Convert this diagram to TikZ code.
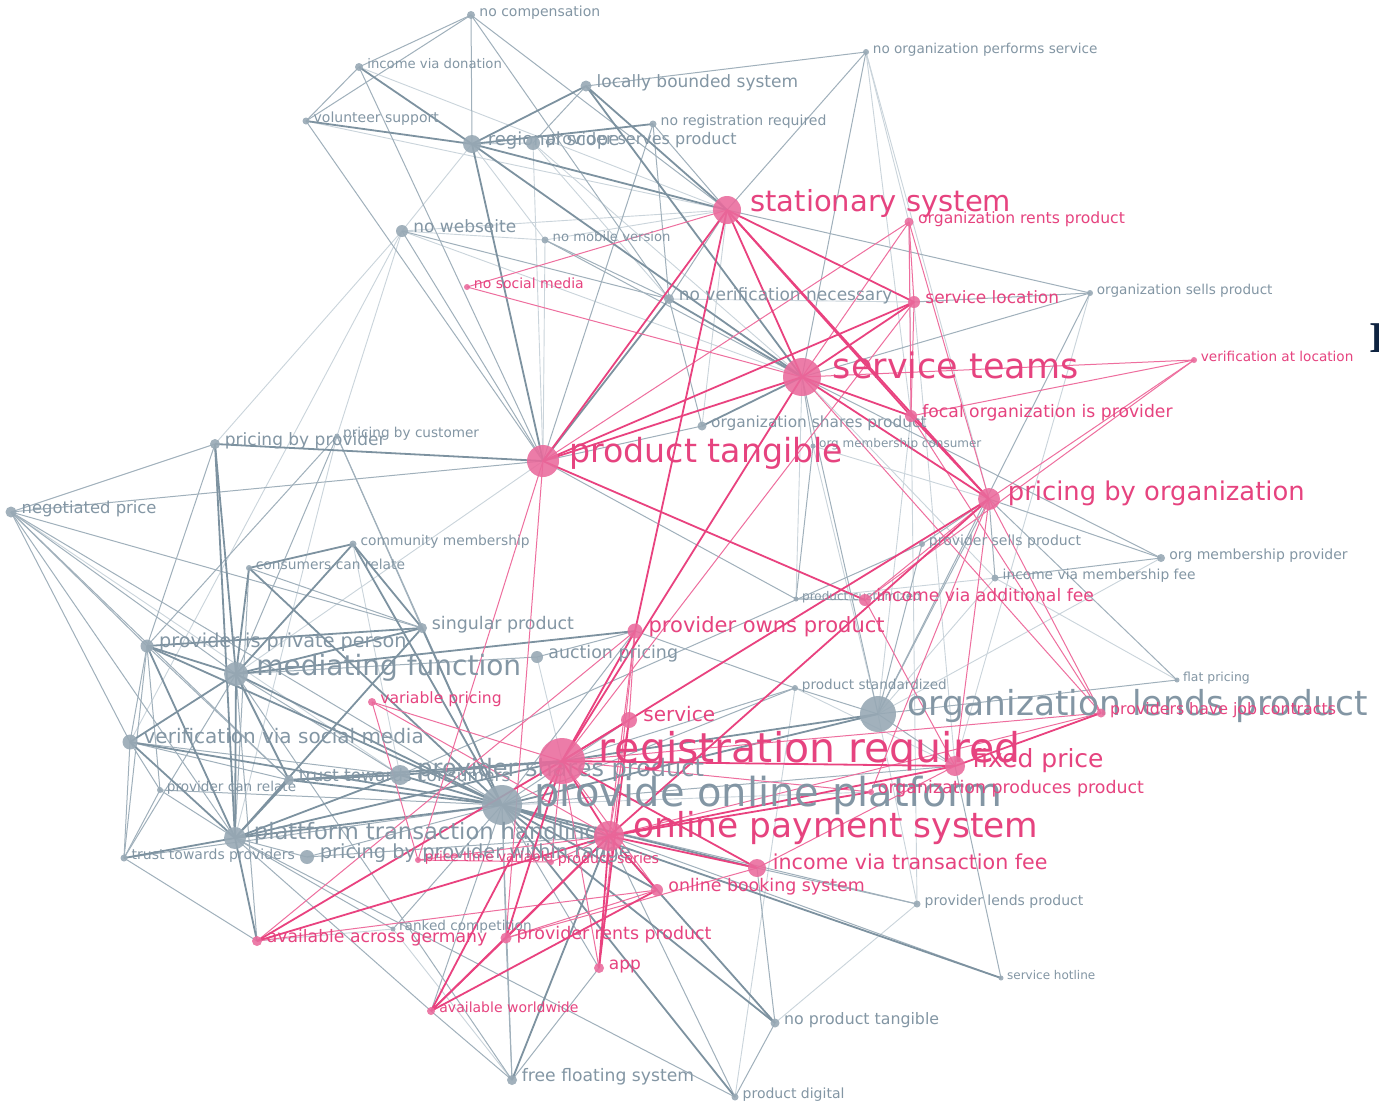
\documentclass[tikz,border=0pt]{standalone}
\usepackage{fontspec}
\setmainfont{DejaVu Sans}
\newfontfamily\glyphserif{Liberation Serif}

\definecolor{gdot}{HTML}{98A9B5}
\definecolor{glab}{HTML}{8396A4}
\definecolor{gline}{HTML}{7D92A0}
\definecolor{gthin}{HTML}{A0B0BB}
\definecolor{glight}{HTML}{CAD4DB}
\definecolor{pdot}{HTML}{EA6A9C}
\definecolor{plab}{HTML}{E6437F}
\definecolor{pline}{HTML}{E9427F}
\definecolor{pthin}{HTML}{EE6E9E}
\definecolor{ink}{HTML}{0E2340}

\pgfdeclarelayer{paper}
\pgfdeclarelayer{edges}
\pgfsetlayers{paper,edges,main}

\tikzset{
  gdotst/.style={circle, fill=gdot, fill opacity=0.9, inner sep=0, draw=none},
  pdotst/.style={circle, fill=pdot, fill opacity=0.88, inner sep=0, draw=none},
  glabst/.style={text=glab, inner sep=0},
  plabst/.style={text=plab, inner sep=0},
  gedge/.style={draw=gline, line width=0.9pt},
  gmid/.style={draw=gthin, line width=0.5pt},
  glite/.style={draw=glight, line width=0.45pt},
  pedge/.style={draw=pline, line width=0.9pt},
  pmid/.style={draw=pthin, line width=0.5pt},
}

% kind (g/p), name, x, y, radius (px), font size (pt), label
\newcommand{\vtx}[7]{%
  \node[#1dotst, minimum size=#5pt] (#2) at (#3,#4) {};
  \node[#1labst, anchor=base west, font=\fontsize{#6}{#6}\selectfont] (#2-t) at ({#3+1.5*#5+2},{#4+1}) {#7};
}

\begin{document}
\begin{tikzpicture}[x=0.5pt, y=-0.5pt]
\begin{pgfonlayer}{paper}
\fill[white] (0,0) rectangle (1379,1104);
\end{pgfonlayer}
\useasboundingbox (0,0) rectangle (1379,1104);

% ---------- grey vertices ----------
\vtx{g}{nocomp}{471}{15}{4}{7}{no compensation}
\vtx{g}{incdon}{359}{67}{4}{6.6}{income via donation}
\vtx{g}{volsup}{306}{121}{3.5}{7}{volunteer support}
\vtx{g}{locbnd}{586}{86}{5.5}{8.5}{locally bounded system}
\vtx{g}{noreg}{653}{124}{3.5}{7}{no registration required}
\vtx{g}{regscope}{472}{144}{9}{9}{regional scope}
\vtx{g}{provserv}{533}{143}{7}{8}{provider serves product}
\vtx{g}{noweb}{402}{231}{6}{8.5}{no webseite}
\vtx{g}{nomob}{545}{240}{3.5}{6.6}{no mobile version}
\vtx{g}{noverif}{669}{299}{5}{8.5}{no verification necessary}
\vtx{g}{noorgperf}{866}{52}{3}{6.8}{no organization performs service}
\vtx{g}{orgsells}{1090}{293}{3}{6.8}{organization sells product}
\vtx{g}{orgshares}{702}{426}{4.5}{7.7}{organization shares product}
\vtx{g}{orgmemcons}{813}{446}{2.5}{6}{org membership consumer}
\vtx{g}{pricprov}{215}{444}{5}{8.5}{pricing by provider}
\vtx{g}{priccust}{337}{436}{2.5}{6.8}{pricing by customer}
\vtx{g}{negprice}{11}{512}{5.5}{8.2}{negotiated price}
\vtx{g}{commem}{353}{544}{3.5}{6.9}{community membership}
\vtx{g}{conrel}{249}{568}{3}{6.9}{consumers can relate}
\vtx{g}{singprod}{422}{628}{5}{8.7}{singular product}
\vtx{g}{privperson}{147}{646}{6.5}{9.6}{provider is private person}
\vtx{g}{mediating}{236}{674}{12}{14}{mediating function}
\vtx{g}{auction}{537}{657}{6}{8.7}{auction pricing}
\vtx{g}{verifsoc}{130}{742}{7.5}{10}{verification via social media}
\vtx{g}{provrelate}{160}{790}{3}{6.8}{provider can relate}
\vtx{g}{trustcons}{289}{780}{5}{8.5}{trust towards consumers}
\vtx{g}{provshares}{400}{775}{10}{12}{provider shares product}
\vtx{g}{pop}{502}{805}{20}{20}{provide online platform}
\vtx{g}{ptrans}{235}{838}{11}{11.3}{plattform transaction handling}
\vtx{g}{trustprov}{124}{858}{3.5}{7}{trust towards providers}
\vtx{g}{pricerange}{307}{857}{7}{9.7}{pricing by provider within range}
\vtx{g}{ranked}{393}{929}{2.5}{6.8}{ranked competition}
\vtx{g}{freefloat}{512}{1080}{5}{8.6}{free floating system}
\vtx{g}{proddig}{735}{1097}{3.5}{7}{product digital}
\vtx{g}{noprodtang}{775}{1023}{4.5}{7.9}{no product tangible}
\vtx{g}{hotline}{1001}{978}{2.5}{6}{service hotline}
\vtx{g}{provlends}{917}{904}{3.5}{7}{provider lends product}
\vtx{g}{prodstd}{795}{688}{3}{6.8}{product standardized}
\vtx{g}{orglends}{878}{714}{18}{17.2}{organization lends product}
\vtx{g}{flatpr}{1177}{680}{2.5}{6.2}{flat pricing}
\vtx{g}{orgmemprov}{1161}{558}{4}{7}{org membership provider}
\vtx{g}{incmem}{995}{578}{3.5}{6.9}{income via membership fee}
\vtx{g}{provsells}{922}{544}{3}{7}{provider sells product}
\vtx{g}{prodcust}{796}{599}{2.5}{6}{product customized}

% ---------- pink vertices ----------
\vtx{p}{stationary}{727}{210}{14}{14.5}{stationary system}
\vtx{p}{orgrents}{909}{222}{4.5}{7.8}{organization rents product}
\vtx{p}{servloc}{914}{302}{6}{8.5}{service location}
\vtx{p}{nosocial}{467}{287}{3}{7}{no social media}
\vtx{p}{steams}{802}{377}{19}{17.5}{service teams}
\vtx{p}{veriloc}{1194}{360}{3}{6.8}{verification at location}
\vtx{p}{focal}{911}{416}{6}{8.6}{focal organization is provider}
\vtx{p}{prodtang}{543}{461}{16}{16.6}{product tangible}
\vtx{p}{pricorg}{989}{499}{11}{12.9}{pricing by organization}
\vtx{p}{incadd}{865}{600}{6}{8.6}{income via additional fee}
\vtx{p}{provowns}{635}{631}{7.5}{10.5}{provider owns product}
\vtx{p}{varpric}{372}{702}{4}{7.8}{variable pricing}
\vtx{p}{service}{629}{720}{8}{10}{service}
\vtx{p}{regreq}{562}{761}{23}{20.5}{registration required}
\vtx{p}{fixed}{955}{766}{10}{12.5}{fixed price}
\vtx{p}{jobcon}{1101}{713}{4.5}{7.9}{providers have job contracts}
\vtx{p}{orgprod}{871}{792}{3}{8.7}{organization produces product}
\vtx{p}{onlinepay}{609}{836}{15}{17.2}{online payment system}
\vtx{p}{inctrans}{757}{868}{9}{10.3}{income via transaction fee}
\vtx{p}{pricetime}{418}{860}{3}{6.8}{price time variable}
\vtx{p}{prodseries}{551}{862}{3}{7.1}{product series}
\vtx{p}{booking}{657}{890}{6}{8.7}{online booking system}
\vtx{p}{availger}{257}{941}{5}{8.6}{available across germany}
\vtx{p}{provrents}{506}{938}{5.5}{8.7}{provider rents product}
\vtx{p}{app}{599}{968}{5}{8.5}{app}
\vtx{p}{availww}{431}{1011}{4}{7}{available worldwide}

% letter cut by the right border
\node[anchor=base west, inner sep=0, text=ink, font=\glyphserif\bfseries\fontsize{22}{22}\selectfont] (cutglyph) at (1369,352) {I};

% ---------- connectors ----------
\begin{pgfonlayer}{edges}
% light grey
\foreach \a/\b in {incdon/stationary, volsup/stationary, regscope/noweb, regscope/nomob,
  regscope/provserv, nomob/stationary, nomob/prodtang, noweb/stationary, noweb/nomob,
  noweb/steams, noweb/pricprov, noweb/verifsoc, provserv/steams, provserv/prodtang,
  provserv/noverif, noorgperf/pricorg, noorgperf/focal, orgmemprov/orglends, flatpr/incmem,
  incmem/prodcust, incmem/orglends, proddig/prodstd, provlends/orglends, provlends/noprodtang,
  orgrents/provlends, focal/orglends, mediating/prodtang, priccust/ptrans, pop/orgprod,
  steams/incmem, steams/prodcust, orgshares/stationary, servloc/noverif, prodstd/fixed,
  orgmemcons/pricorg, orgmemcons/orglends, priccust/noweb, negprice/provshares,
  commem/provshares, auction/regreq, availger/ranked, ranked/freefloat, servloc/fixed,
  orgsells/fixed, noorgperf/orgrents}
  \draw[glite] (\a.center) -- (\b.center);
% medium grey
\foreach \a/\b in {nocomp/incdon, nocomp/volsup, nocomp/regscope, nocomp/stationary, nocomp/noverif,
  incdon/volsup, incdon/prodtang, volsup/prodtang, locbnd/noorgperf, locbnd/provserv,
  noreg/stationary, noreg/prodtang, noreg/noverif, noorgperf/steams, noorgperf/stationary,
  stationary/orgsells, steams/orgsells, servloc/orgsells, orgsells/orglends,
  steams/orgmemcons, steams/orgmemprov, steams/orglends, noverif/noweb, noverif/stationary,
  noverif/orgshares, noweb/prodtang, nomob/steams, nomob/noverif,
  negprice/pricprov, negprice/prodtang, negprice/singprod, negprice/mediating,
  negprice/privperson, negprice/verifsoc, negprice/ptrans, negprice/pop, negprice/trustcons,
  pricprov/privperson, priccust/privperson, priccust/mediating, priccust/singprod, priccust/pop,
  conrel/ptrans, conrel/singprod, privperson/verifsoc, privperson/trustprov,
  privperson/provrelate, privperson/trustcons, mediating/availger, mediating/trustprov,
  mediating/provshares, mediating/auction, verifsoc/trustprov, verifsoc/provrelate,
  verifsoc/trustcons, verifsoc/provshares, provrelate/ptrans, provrelate/pop,
  provrelate/trustprov, trustprov/pop, trustprov/availger, pricerange/pop,
  pricerange/onlinepay, pricerange/ptrans, pop/fixed, pop/provowns, pop/service, pop/app,
  pop/provrents, pop/freefloat, pop/provlends, pop/ranked, pop/prodstd, pop/availww,
  auction/provowns, noprodtang/booking, noprodtang/inctrans, noprodtang/proddig,
  proddig/onlinepay, proddig/ptrans, freefloat/app, freefloat/availww, freefloat/provrents,
  freefloat/mediating, availww/ptrans, provlends/inctrans, hotline/onlinepay, hotline/fixed,
  orglends/prodstd, orglends/fixed, orglends/pricorg, orglends/flatpr, pricorg/orgmemprov,
  pricorg/flatpr, pricorg/provsells, pricorg/incmem, orgmemprov/incmem,
  provsells/provshares, provsells/orglends, prodcust/incadd, prodcust/orgmemcons,
  prodcust/prodtang, prodstd/provowns, prodstd/regreq, orgshares/prodtang, ranked/ptrans}
  \draw[gmid] (\a.center) -- (\b.center);
% strong grey
\foreach \a/\b in {regscope/locbnd, regscope/stationary, regscope/prodtang, regscope/steams,
  regscope/noreg, incdon/regscope, volsup/regscope, locbnd/stationary, locbnd/steams,
  noverif/steams, noverif/prodtang, pricprov/prodtang, pricprov/mediating, pricprov/ptrans,
  commem/conrel, commem/mediating, commem/singprod, commem/pop, conrel/mediating, conrel/pop,
  singprod/privperson, singprod/mediating, singprod/ptrans, singprod/pop,
  privperson/mediating, privperson/pop, privperson/ptrans, mediating/pop, mediating/ptrans,
  mediating/verifsoc, mediating/trustcons, mediating/provowns, verifsoc/pop, verifsoc/ptrans,
  trustcons/pop, trustcons/ptrans, trustcons/regreq, trustcons/provshares,
  ptrans/pop, ptrans/regreq, ptrans/availger, ptrans/trustprov, ptrans/provshares,
  pop/onlinepay, pop/inctrans, pop/orglends, pop/booking, pop/noprodtang, pop/hotline,
  pop/proddig, provshares/pop, provshares/regreq, onlinepay/noprodtang, onlinepay/freefloat,
  orglends/regreq, steams/orgshares}
  \draw[gedge] (\a.center) -- (\b.center);
% thin pink
\foreach \a/\b in {stationary/nosocial, nosocial/steams, steams/veriloc, steams/orgrents,
  steams/jobcon, focal/jobcon, focal/veriloc, pricorg/veriloc, veriloc/incadd, pricorg/incadd,
  pricorg/jobcon, pricorg/orgrents, orgrents/prodtang, orgrents/focal, orgrents/servloc,
  servloc/focal, servloc/regreq, prodtang/provrents, prodtang/pricetime, incadd/fixed,
  orgprod/regreq, orgprod/pricorg, fixed/inctrans, fixed/pricorg, jobcon/onlinepay,
  jobcon/regreq, varpric/regreq, varpric/onlinepay, varpric/pricetime, pricetime/onlinepay,
  prodseries/onlinepay, prodseries/regreq, pricetime/prodseries, booking/regreq,
  booking/availger, booking/provrents, provrents/inctrans, service/onlinepay,
  service/provowns, provowns/onlinepay, provowns/availger, app/regreq, app/provowns}
  \draw[pmid] (\a.center) -- (\b.center);
% strong pink
\foreach \a/\b in {stationary/prodtang, stationary/steams, stationary/servloc, stationary/focal,
  stationary/pricorg, stationary/provowns, steams/prodtang, steams/pricorg, steams/servloc,
  steams/focal, steams/regreq, prodtang/servloc, prodtang/incadd, pricorg/focal,
  pricorg/onlinepay, pricorg/regreq, regreq/fixed, regreq/onlinepay, regreq/service,
  regreq/provowns, regreq/availger, regreq/inctrans, onlinepay/inctrans, onlinepay/booking,
  onlinepay/fixed, onlinepay/orgprod, onlinepay/provrents, onlinepay/availww,
  onlinepay/availger, onlinepay/app, fixed/jobcon, availww/provrents, availww/booking,
  availww/regreq, provrents/regreq, app/service}
  \draw[pedge] (\a.center) -- (\b.center);
\end{pgfonlayer}
\end{tikzpicture}
\end{document}
